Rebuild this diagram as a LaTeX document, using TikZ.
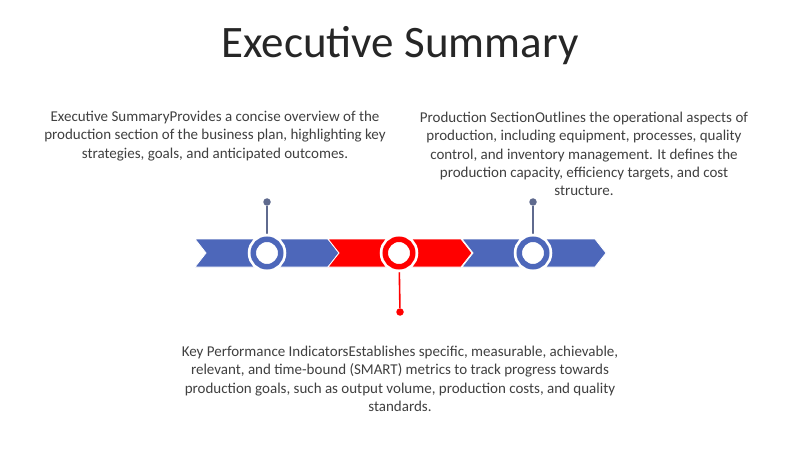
\documentclass[tikz,border=0pt]{standalone}
\usepackage{fontspec}
\setmainfont{Carlito}
\usetikzlibrary{positioning}
\definecolor{chevblue}{HTML}{4D67BA}
\definecolor{chevred}{HTML}{FF0000}
\definecolor{stemgrey}{HTML}{5F6A8E}
\definecolor{txtgrey}{HTML}{404040}

\begin{document}
\begin{tikzpicture}[x=1pt,y=-1pt,
    ring/.style={circle,fill=white,draw=#1,line width=5.5pt,inner sep=0pt,minimum size=27.5pt,
      preaction={draw=white,line width=11pt}},
    dot/.style={circle,fill=#1,inner sep=0pt,minimum size=7.5pt},
    stem/.style={draw=#1,line width=1.6pt},
    blurb/.style={align=center,text=txtgrey,font=\fontsize{15}{18.4}\selectfont}]
    \useasboundingbox[fill=white] (0,0) rectangle (800,449);
    \node[text=black!85,font=\fontsize{45}{52}\selectfont] (title) at (400,46) {Executive Summary};
    % chevron band
    \foreach \x/\col in {195/chevblue,328/chevred,462/chevblue}
      \fill[\col,draw=white,line width=0.8pt] (\x,239) -- ++(133,0) -- ++(11,14) -- ++(-11,14)
        -- ++(-133,0) -- ++(11,-14) -- cycle;
    \node[dot=stemgrey] (d1) at (267,202) {};
    \node[dot=chevred] (d2) at (400,312) {};
    \node[dot=stemgrey] (d3) at (533,202) {};
    \coordinate (m1) at (267,253);
    \coordinate (m2) at (399,253);
    \coordinate (m3) at (533,253);
    \draw[stem=stemgrey] (d1) -- (m1);
    \draw[stem=chevred] (d2) -- (m2);
    \draw[stem=stemgrey] (d3) -- (m3);
    \node[ring=chevblue] (c1) at (m1) {};
    \node[ring=chevred] (c2) at (m2) {};
    \node[ring=chevblue] (c3) at (m3) {};
    % texts
    \node[blurb] (t1) at (215,136) {Executive SummaryProvides a concise overview of the\\
      production section of the business plan, highlighting key\\
      strategies, goals, and anticipated outcomes.};
    \node[blurb] (t2) at (584,154) {Production SectionOutlines the operational aspects of\\
      production, including equipment, processes, quality\\
      control, and inventory management. It defines the\\
      production capacity, efficiency targets, and cost\\
      structure.};
    \node[blurb] (t3) at (400,379) {Key Performance IndicatorsEstablishes specific, measurable, achievable,\\
      relevant, and time-bound (SMART) metrics to track progress towards\\
      production goals, such as output volume, production costs, and quality\\
      standards.};
\end{tikzpicture}
\end{document}
